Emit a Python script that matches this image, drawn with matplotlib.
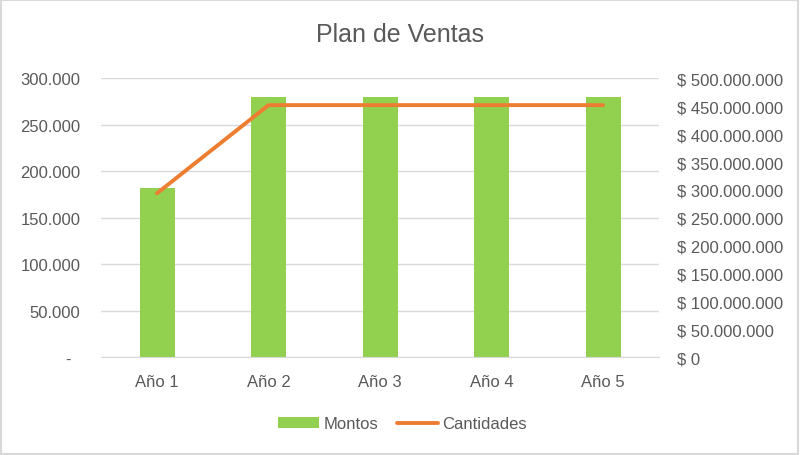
import matplotlib.pyplot as plt
from matplotlib.ticker import FuncFormatter, MultipleLocator
from matplotlib.patches import Rectangle

# --- datos ---
anios = ["Año 1", "Año 2", "Año 3", "Año 4", "Año 5"]
montos = [181800, 280000, 280000, 280000, 280000]
cantidades = [294000000, 452000000, 452000000, 452000000, 452000000]

# --- colores estilo Excel ---
C_BAR = "#92D050"
C_LINE = "#ED7D31"
C_TEXT = "#595959"
C_GRID = "#D9D9D9"

plt.rcParams["font.family"] = ["Liberation Sans", "DejaVu Sans"]

fig = plt.figure(figsize=(8, 4.56), dpi=100)
ax = fig.add_axes([0.1266, 0.2143, 0.6969, 0.6117])
ax2 = ax.twinx()

x = range(len(anios))
bars = ax.bar(x, montos, width=0.314, color=C_BAR, label="Montos", zorder=2)
(line,) = ax2.plot(x, cantidades, color=C_LINE, linewidth=2.8,
                   solid_capstyle="round", label="Cantidades", zorder=3)

# --- ejes ---
ax.set_xlim(-0.5, len(anios) - 0.5)
ax.set_ylim(0, 300000)
ax2.set_ylim(0, 500000000)
ax.yaxis.set_major_locator(MultipleLocator(50000))
ax2.yaxis.set_major_locator(MultipleLocator(50000000))


def fmt_miles(v, pos):
    if v == 0:
        return "-  "
    return f"{v:,.0f}".replace(",", ".")


def fmt_pesos(v, pos):
    return "$ " + f"{v:,.0f}".replace(",", ".")


ax.yaxis.set_major_formatter(FuncFormatter(fmt_miles))
ax2.yaxis.set_major_formatter(FuncFormatter(fmt_pesos))
ax.set_xticks(list(x))
ax.set_xticklabels(anios)

ax.grid(axis="y", color=C_GRID, linewidth=1.0, zorder=0)
ax.set_axisbelow(True)
for a in (ax, ax2):
    for s in a.spines.values():
        s.set_visible(False)
    a.tick_params(length=0, labelsize=12, colors=C_TEXT)
ax.spines["bottom"].set_visible(True)
ax.spines["bottom"].set_color(C_GRID)
ax.tick_params(axis="y", pad=15)
ax.tick_params(axis="x", pad=12)
ax2.tick_params(axis="y", pad=13)

fig.text(0.5, 0.923, "Plan de Ventas", ha="center", va="center",
         fontsize=18, color=C_TEXT)

fig.legend([bars, line], ["Montos", "Cantidades"], loc="center",
           bbox_to_anchor=(0.503, 0.068), ncol=2, frameon=False, fontsize=12,
           labelcolor=C_TEXT, handlelength=2.5, handletextpad=0.25,
           columnspacing=1.1)

# borde del gráfico
fig.patches.append(Rectangle((0.001, 0.002), 0.997, 0.996, transform=fig.transFigure,
                             fill=False, edgecolor="#D9D9D9", linewidth=1.5))

fig.savefig("out.png", dpi=100)
